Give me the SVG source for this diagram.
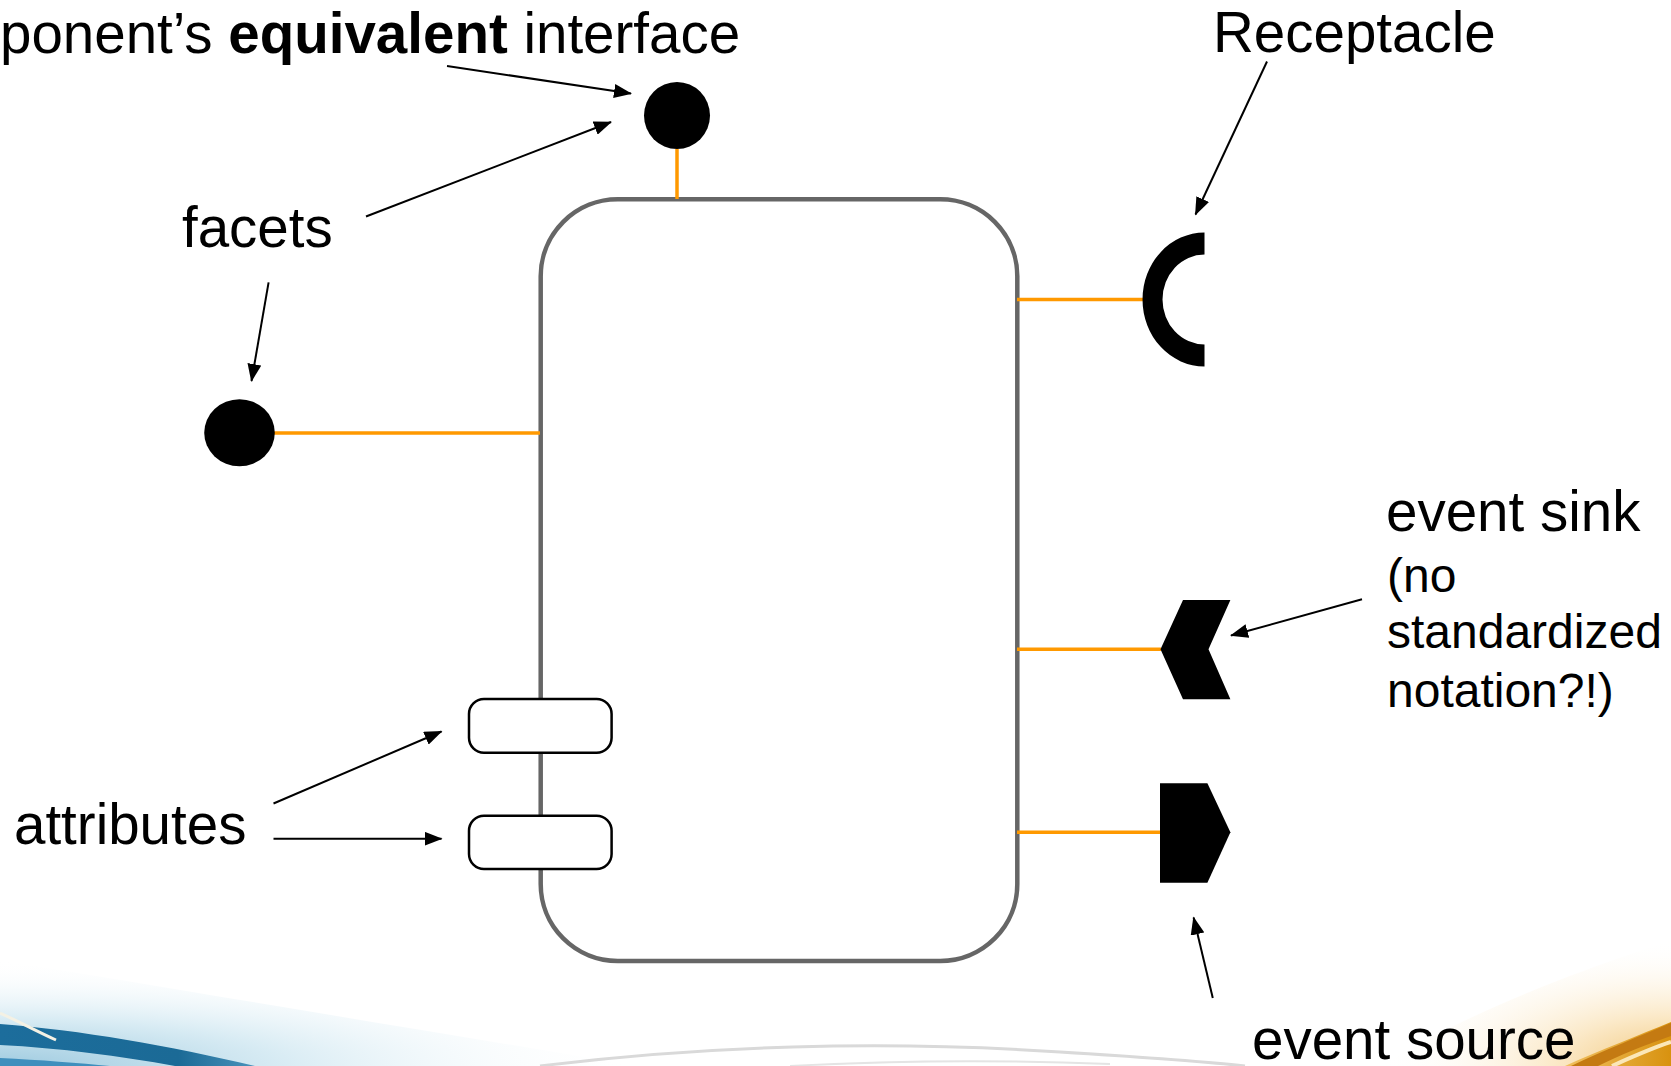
<svg xmlns="http://www.w3.org/2000/svg" width="1671" height="1066" viewBox="0 0 1671 1066">
  <style>
    .label { font-family: "Liberation Sans", Arial, sans-serif; font-size: 56.5px; fill: #000; }
    .small { font-size: 48px; }
    .body { fill: #fff; stroke: #666; stroke-width: 4.5; }
    .attr { fill: #fff; stroke: #000; stroke-width: 2.5; }
    .port { fill: #000; }
    .link { stroke: #ff9900; stroke-width: 3.5; fill: none; }
    .note { stroke: #000; stroke-width: 2; fill: none; marker-end: url(#tip); }
  </style>
  <defs>
    <marker id="tip" markerUnits="userSpaceOnUse" markerWidth="18" markerHeight="14" refX="17" refY="7" orient="auto">
      <path d="M0,0 L18,7 L0,14 Z" fill="#000"/>
    </marker>
    <radialGradient id="hazeBlue" cx="0" cy="1" r="1" fx="0" fy="1">
      <stop offset="0" stop-color="#9fcbe0"/>
      <stop offset="0.45" stop-color="#d9ecf4"/>
      <stop offset="1" stop-color="#ffffff" stop-opacity="0"/>
    </radialGradient>
    <linearGradient id="blueBand" x1="0" y1="0" x2="1" y2="0">
      <stop offset="0" stop-color="#1c6d9c"/>
      <stop offset="0.7" stop-color="#1b6a96"/>
      <stop offset="1" stop-color="#4a93bb"/>
    </linearGradient>
    <radialGradient id="hazeOrange" cx="1" cy="1" r="1" fx="1" fy="1">
      <stop offset="0" stop-color="#f1c77a"/>
      <stop offset="0.4" stop-color="#fbe9c8"/>
      <stop offset="1" stop-color="#ffffff" stop-opacity="0"/>
    </radialGradient>
    <linearGradient id="goldBand" x1="0" y1="0" x2="1" y2="0">
      <stop offset="0" stop-color="#f0c060"/>
      <stop offset="1" stop-color="#d8920f"/>
    </linearGradient>
  </defs>

  <rect width="1671" height="1066" fill="#fff"/>

  <!-- footer swooshes -->
  <g id="footer">
    <path d="M0,960 C180,990 420,1030 640,1066 L0,1066 Z" fill="url(#hazeBlue)"/>
    <path d="M0,1024 C80,1030 170,1046 255,1066 L175,1066 C120,1056 60,1048 0,1045 Z" fill="url(#blueBand)"/>
    <path d="M0,1058 C40,1060 80,1063 110,1066 L0,1066 Z" fill="#3f8fbd"/>
    <path d="M0,1013 C20,1022 38,1032 56,1040" stroke="#f4f1e4" stroke-width="3" fill="none"/>
    <path d="M1380,1066 C1490,1000 1600,965 1671,940 L1671,1066 Z" fill="url(#hazeOrange)"/>
    <path d="M1565,1066 C1600,1050 1640,1035 1671,1022 L1671,1066 Z" fill="url(#goldBand)"/>
    <path d="M1571,1066 C1605,1050 1640,1036 1671,1023 L1671,1036 C1645,1045 1620,1055 1598,1066 Z" fill="#c47a12"/>
    <path d="M1612,1066 C1632,1057 1652,1048 1671,1042" stroke="#fbe7b8" stroke-width="4" fill="none"/>
    <path d="M540,1066 C700,1046 880,1040 1060,1052 C1140,1057 1200,1061 1245,1066" stroke="#d9d9d9" stroke-width="3" fill="none"/>
    <path d="M790,1066 C900,1060 1010,1060 1110,1064" stroke="#e4e4e4" stroke-width="2" fill="none"/>
  </g>

  <!-- component body -->
  <g id="component">
    <rect class="body" x="540.7" y="199.3" width="476.6" height="761.7" rx="77" ry="77"/>
  </g>

  <!-- port links and annotation arrows -->
  <g id="connectors">
    <line class="link" x1="677" y1="149" x2="677" y2="199"/>
    <line class="link" x1="274" y1="433" x2="540" y2="433"/>
    <line class="link" x1="1017" y1="299.5" x2="1143" y2="299.5"/>
    <line class="link" x1="1017" y1="649.3" x2="1161" y2="649.3"/>
    <line class="link" x1="1017" y1="832.3" x2="1160" y2="832.3"/>

    <line class="note" x1="447" y1="66" x2="631" y2="93.5"/>
    <line class="note" x1="366" y1="216.5" x2="611" y2="122"/>
    <line class="note" x1="268.6" y1="282.4" x2="251.5" y2="381"/>
    <line class="note" x1="1267" y1="61.5" x2="1195.5" y2="214.5"/>
    <line class="note" x1="1362" y1="599.3" x2="1231" y2="635.5"/>
    <line class="note" x1="1212.8" y1="998" x2="1193.6" y2="917.5"/>
    <line class="note" x1="273.5" y1="803.5" x2="441.5" y2="731.5"/>
    <line class="note" x1="273.5" y1="838.7" x2="441.5" y2="838.7"/>
  </g>

  <!-- facets -->
  <g id="facet-equivalent">
    <ellipse class="port" cx="677" cy="115.5" rx="33" ry="33.5"/>
  </g>
  <g id="facet-left">
    <ellipse class="port" cx="239.5" cy="432.7" rx="35.3" ry="33.5"/>
  </g>

  <!-- receptacle -->
  <g id="receptacle">
    <path class="port" d="M1204.5,232.5 A62,67 0 0 0 1204.5,366.5 L1204.5,344.5 A42,45 0 0 1 1204.5,254.5 Z"/>
  </g>

  <!-- event ports -->
  <g id="event-sink">
    <polygon class="port" points="1183,600 1230.4,600 1208.5,649.3 1230.4,699.3 1183,699.3 1160.5,649.3"/>
  </g>
  <g id="event-source">
    <polygon class="port" points="1160,783.3 1207.4,783.3 1230.4,832.3 1207.4,882.7 1160,882.7"/>
  </g>

  <!-- attributes -->
  <g id="attribute-1">
    <rect class="attr" x="469" y="699" width="142.6" height="53.7" rx="15" ry="15"/>
  </g>
  <g id="attribute-2">
    <rect class="attr" x="469" y="815.7" width="142.6" height="53.3" rx="15" ry="15"/>
  </g>

  <!-- labels -->
  <g id="labels">
    <text class="label" x="0" y="53" font-size="56.8">ponent’s <tspan font-weight="bold">equivalent</tspan> interface</text>
    <text class="label" x="1213" y="52">Receptacle</text>
    <text class="label" x="182" y="247">facets</text>
    <text class="label" x="14" y="844">attributes</text>
    <text class="label" x="1386" y="531">event sink</text>
    <text class="label small" x="1387" y="591.5">(no</text>
    <text class="label small" x="1387" y="648">standardized</text>
    <text class="label small" x="1387" y="706.5">notation?!)</text>
    <text class="label" x="1252" y="1059">event source</text>
  </g>
</svg>
